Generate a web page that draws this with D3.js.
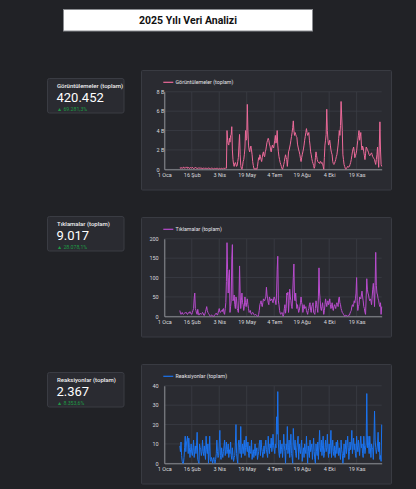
<!DOCTYPE html>
<html><head><meta charset="utf-8">
<script src="https://cdn.jsdelivr.net/npm/d3@7"></script>
<style>
html,body{margin:0;padding:0;background:#212226;}
svg{display:block;font-family:Roboto,"Noto Sans",sans-serif;}
</style></head><body>
<svg id="c" width="416" height="489"></svg>
<script>
// ---------------- DATA ----------------
const titleText = "2025 Yılı Veri Analizi";
const seriesNames = ["Görüntülemeler (toplam)", "Tıklamalar (toplam)", "Reaksiyonlar (toplam)"];
const kpiValues = ["420.452", "9.017", "2.367"];
const kpiDeltas = ["69.281,3%", "28.078,1%", "8.353,6%"];
const axisStart = "2025-01-01";
const axisEnd = "2025-12-31";
const dataStartDate = "2025-01-27"; // one value per day from this date
const tickDates = ["2025-01-01","2025-02-16","2025-04-03","2025-05-19","2025-07-04","2025-08-19","2025-10-04","2025-11-19"];
const tickLabels = ["1 Oca","16 Şub","3 Nis","19 May","4 Tem","19 Ağu","4 Eki","19 Kas"];
const viewsTicks = [0, 2, 4, 6, 8];            // thousands
const viewsTickLabels = ["0", "2 B", "4 B", "6 B", "8 B"];
const clicksTicks = [0, 50, 100, 150, 200];
const reactionsTicks = [0, 10, 20, 30, 40];

// Görüntülemeler, in thousands (B = bin)
const viewsThousands = [
0.15,0.1,0.2,0.12,0.08,0.18,0.22,0.1,0.15,0.2,
0.12,0.18,0.25,0.1,0.15,0.2,0.08,0.12,0.18,0.1,
0.15,0.22,0.12,0.08,0.15,0.1,0.18,0.2,0.1,0.12,
0.08,0.15,0.1,0.12,0.18,0.08,0.1,0.15,0.05,0.1,
0.12,0.08,0.15,0.1,0.05,0.12,0.08,0.1,0.15,0.06,
0.1,0.05,0.08,0.12,0.06,0.1,0.04,0.08,0.1,0.05,
0.08,0.12,0.05,0.1,0.06,0.04,0.08,0.1,0.05,0.07,
0.1,0.05,0.08,0.12,0.06,0.1,0.08,0.15,0.12,
4.0,3.0,2.6,2.5,3.2,2.8,3.5,3.6,4.4,2.0,
1.0,0.5,0.3,0.6,0.7,0.5,0.3,0.4,0.8,1.2,
2.5,3.6,1.5,0.4,0.1,0,0.3,0.8,1.0,1.5,
2.2,4.0,3.0,3.2,6.7,4.0,2.5,2.0,1.8,2.2,
2.4,2.0,1.5,0.8,0.4,0.1,0,0.1,0,0.05,
0,0.3,0.8,1.2,1.0,1.5,1.3,1.0,0.8,1.2,
1.6,1.8,1.4,1.3,1.8,2.0,2.4,2.8,3.0,3.2,
3.0,2.6,2.4,2.0,1.8,2.2,2.5,2.3,2.2,2.6,
3.0,3.5,2.7,3.0,4.0,2.5,1.8,1.3,1.0,0.7,
0.5,0.3,0.1,0,0.2,0.5,0.8,1.2,1.5,1.2,
1.0,0.3,1.0,1.8,2.0,2.3,2.6,3.0,3.4,3.8,
4.3,5.0,4.0,3.5,3.8,3.6,3.4,3.3,2.6,2.3,
2.0,1.8,1.5,1.1,0.8,1.2,1.5,1.8,2.1,2.5,
3.0,3.4,3.8,4.2,3.8,3.5,3.6,3.8,3.0,2.5,
1.8,1.5,1.1,0.8,0.6,0.4,0.1,0.3,1.2,1.8,
1.4,1.0,0.8,0.7,0.7,0.6,0.8,0.8,0.6,0.7,
0.6,0.3,0,1.2,2.5,3.0,3.6,6.2,4.0,3.0,
2.5,2.7,3.0,2.5,2.0,1.7,1.5,0.8,0.6,0.5,
0.6,0.8,1.0,1.3,1.5,2.0,2.5,3.2,4.0,3.5,
4.5,7.0,5.5,4.0,1.5,1.0,0.5,0.3,0.1,0,
0.1,0.2,0.3,0.2,0.3,0.3,0.5,0.7,1.0,1.4,
1.8,2.1,2.3,1.8,1.2,1.4,1.6,1.9,2.5,3.0,
3.5,4.0,3.0,3.4,3.8,2.5,2.0,2.4,2.2,1.8,
1.4,1.0,1.6,2.3,2.2,2.0,1.9,1.7,1.5,1.4,
1.5,1.6,1.7,1.5,1.3,1.2,1.1,1.0,0.7,0.5,
1.0,1.5,2.3,1.0,0.2,2.5,4.9,2.0,0.5,0.3
];

const clicks = [
15,8,5,8,10,6,5,7,8,10,
9,10,6,5,8,10,8,12,9,6,
5,10,15,20,45,60,20,15,8,5,
18,8,3,6,8,6,5,7,10,8,
3,2,6,12,18,25,15,10,7,5,
2,0,2,3,2,1,0,0,3,5,
6,8,5,3,8,15,20,12,10,13,
15,12,18,20,8,5,20,35,90,190,
120,60,100,120,10,25,40,150,185,40,
45,55,30,20,50,45,20,15,10,40,
130,60,20,40,60,35,30,15,25,50,
35,25,35,45,30,20,10,12,15,8,
5,8,10,8,5,3,4,5,3,2,
0,0,5,15,30,35,40,30,25,35,
45,42,40,45,50,75,55,45,35,30,
50,45,40,42,45,40,35,45,50,45,
40,30,60,120,155,40,30,15,8,5,
8,10,5,0,5,20,30,8,20,60,
55,62,10,40,70,50,40,25,20,60,
100,135,45,40,60,35,20,30,20,10,
15,25,35,50,35,30,10,20,30,20,
22,25,15,10,5,15,20,30,35,15,
10,25,30,35,10,8,5,20,40,30,
20,10,50,125,60,40,20,15,25,35,
20,5,15,30,45,35,25,35,40,30,
35,45,30,20,25,35,20,15,25,30,
25,20,30,35,30,25,45,50,35,30,
20,15,10,8,5,3,0,2,3,2,
1,0,2,3,3,8,12,15,25,30,
25,30,40,35,45,60,100,40,15,25,
30,50,48,45,55,65,50,40,25,20,
10,5,50,97,70,60,55,45,40,45,
40,30,50,70,85,60,25,80,165,80,
60,55,45,40,30,25,35,5,25
];

const reactions = [
9,6,11,4,1,0,0,3,8,14,
6,10,12,14,5,13,8,3,7,10,
5,4,8,12,3,6,9,5,9,16,
2,1,0,10,8,7,4,6,12,6,
4,9,5,2,14,7,5,10,0,6,
14,2,1,3,2,0,2,3,1,0,
2,5,12,6,3,4,10,17,4,2,
8,5,3,6,9,12,4,7,11,5,
7,10,3,7,5,11,4,2,8,4,
1,3,4,10,20,5,2,0,10,12,
8,5,19,3,7,10,5,9,12,4,
8,14,8,6,11,5,3,9,6,5,
12,2,5,7,3,6,10,4,6,8,
2,4,6,10,12,4,12,8,6,3,
6,9,5,9,12,7,5,3,14,8,
5,10,8,13,6,9,15,9,7,5,
10,8,24,15,37,10,5,3,12,5,
7,10,3,8,15,9,6,0,10,7,
19,5,8,12,3,9,15,5,3,0,
18,10,7,12,5,3,8,11,14,2,
10,7,5,9,12,1,6,8,3,10,
7,5,14,6,0,9,6,3,12,6,
8,10,2,7,13,6,2,0,10,6,
4,11,2,9,17,8,6,12,4,9,
14,3,5,8,12,6,8,15,7,3,
10,5,9,17,3,8,12,6,4,9,
3,7,11,5,12,8,4,8,5,2,
12,7,5,0,4,10,3,7,12,5,
9,14,8,2,6,11,7,10,17,5,
9,13,7,10,5,3,14,9,6,12,
8,4,10,14,8,10,5,3,14,9,
5,8,10,36,8,14,9,5,14,8,
3,10,8,7,2,12,27,12,8,5,
7,10,16,6,11,2,4,1,20
];

// ---------------- DRAW ----------------
const svg = d3.select("#c");
const parse = d3.utcParse("%Y-%m-%d");
const start = parse(dataStartDate);

// title
svg.append("rect").attr("x", 63.5).attr("y", 9.5).attr("width", 249).attr("height", 21.5)
  .attr("fill", "#ffffff").attr("stroke", "#8a8c90").attr("stroke-width", 1);
svg.append("text").attr("x", 188).attr("y", 24).attr("text-anchor", "middle")
  .attr("font-size", 10.5).attr("font-weight", 700).attr("fill", "#111").text(titleText);

const panels = [
  { name: seriesNames[0], values: viewsThousands, ticks: viewsTicks, tickLabels: viewsTickLabels, color: "#ee6a9a",
    kpiTop: 78, cardTop: 70, kpi: kpiValues[0], delta: kpiDeltas[0], yAnchor: "start" },
  { name: seriesNames[1], values: clicks, ticks: clicksTicks, tickLabels: clicksTicks.map(String), color: "#b94cce",
    kpiTop: 216, cardTop: 217, kpi: kpiValues[1], delta: kpiDeltas[1], yAnchor: "end" },
  { name: seriesNames[2], values: reactions, ticks: reactionsTicks, tickLabels: reactionsTicks.map(String), color: "#1a73f0",
    kpiTop: 372, cardTop: 364, kpi: kpiValues[2], delta: kpiDeltas[2], yAnchor: "end" }
];

const x = d3.scaleUtc().domain([parse(axisStart), parse(axisEnd)]).range([164.3, 381.7]);
const tickDateObjs = tickDates.map(parse);

panels.forEach(p => {
  // KPI card
  const k = svg.append("g");
  k.append("rect").attr("x", 47.5).attr("y", p.kpiTop + 0.5).attr("width", 76.5).attr("height", 34.5).attr("rx", 2)
    .attr("fill", "#2a2b31").attr("stroke", "#3a3c43");
  k.append("text").attr("x", 57).attr("y", p.kpiTop + 10).attr("font-size", 6).attr("font-weight", 500)
    .attr("fill", "#f0f0f0").text(p.name);
  k.append("text").attr("x", 56.5).attr("y", p.kpiTop + 23.5).attr("font-size", 13)
    .attr("fill", "#ffffff").text(p.kpi);
  k.append("text").attr("x", 57).attr("y", p.kpiTop + 32.5).attr("font-size", 5.2)
    .attr("fill", "#1f9a45").text("▲ " + p.delta);

  // chart card
  const top = p.cardTop;
  svg.append("rect").attr("x", 141.5).attr("y", top + 0.5).attr("width", 250).attr("height", 119.5).attr("rx", 1)
    .attr("fill", "#2a2b31").attr("stroke", "#393b42");

  const y = d3.scaleLinear().domain([p.ticks[0], p.ticks[p.ticks.length - 1]]).range([top + 99.3, top + 21.8]);
  const g = svg.append("g");

  // gridlines
  g.selectAll(".hg").data(p.ticks).enter().append("line")
    .attr("x1", x.range()[0]).attr("x2", x.range()[1])
    .attr("y1", d => y(d)).attr("y2", d => y(d))
    .attr("stroke", "#3b3d45").attr("stroke-width", 0.8);
  g.selectAll(".vg").data(tickDateObjs).enter().append("line")
    .attr("x1", d => x(d)).attr("x2", d => x(d))
    .attr("y1", y.range()[1]).attr("y2", y.range()[0])
    .attr("stroke", "#3b3d45").attr("stroke-width", 0.8);

  // x axis
  const xa = g.append("g").attr("transform", `translate(0,${y.range()[0]})`)
    .call(d3.axisBottom(x).tickValues(tickDateObjs).tickFormat((d, i) => tickLabels[i]).tickSize(0).tickPadding(4));
  xa.select(".domain").attr("stroke", "#8d8f95").attr("stroke-width", 1);
  xa.selectAll("text").attr("font-size", 5.5).attr("fill", "#d8d9dc").attr("font-family", "Roboto, sans-serif");

  // y axis
  const ya = g.append("g").attr("transform", `translate(${x.range()[0]},0)`)
    .call(d3.axisLeft(y).tickValues(p.ticks).tickFormat((d, i) => p.tickLabels[i]).tickSize(0).tickPadding(6));
  ya.select(".domain").attr("stroke", "#8d8f95").attr("stroke-width", 1);
  ya.selectAll("text").attr("font-size", 5.5).attr("fill", "#d8d9dc").attr("font-family", "Roboto, sans-serif");
  if (p.yAnchor === "start") {
    ya.selectAll("text").attr("text-anchor", "start").attr("x", 156.5 - x.range()[0]);
  } else {
    ya.selectAll("text").attr("x", 158.7 - x.range()[0]);
  }

  // line
  const pts = p.values.map((v, i) => [d3.utcDay.offset(start, i), v]);
  g.append("path").datum(pts)
    .attr("fill", "none").attr("stroke", p.color).attr("stroke-width", 1).attr("stroke-linejoin", "round")
    .attr("d", d3.line().x(d => x(d[0])).y(d => y(d[1])));

  // legend
  g.append("line").attr("x1", 163.3).attr("x2", 173.3).attr("y1", top + 12.3).attr("y2", top + 12.3)
    .attr("stroke", p.color).attr("stroke-width", 1.2);
  g.append("text").attr("x", 175.5).attr("y", top + 14.2).attr("font-size", 5.3).attr("fill", "#e2e2e6").text(p.name);
});
</script>
</body></html>
